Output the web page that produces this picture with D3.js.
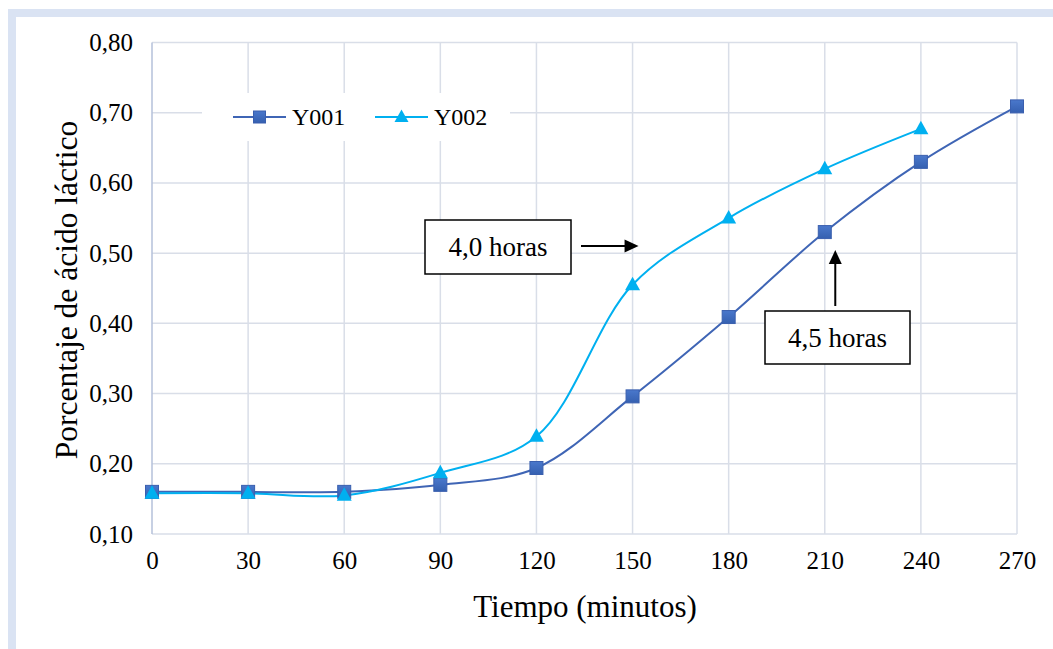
<!DOCTYPE html>
<html>
<head>
<meta charset="utf-8">
<script src="https://cdn.jsdelivr.net/npm/d3@7/dist/d3.min.js"></script>
<style>
  html, body { margin: 0; padding: 0; background: #fff; }
  svg { display: block; }
</style>
</head>
<body>
<svg id="chart" width="1053" height="649"></svg>
<script>
// Time in minutes
const minutes = [0, 30, 60, 90, 120, 150, 180, 210, 240, 270];
// Lactic acid percentage for each strain
const y001 = [0.16, 0.16, 0.16, 0.17, 0.194, 0.296, 0.409, 0.53, 0.63, 0.709];
const y002 = [0.158, 0.158, 0.155, 0.187, 0.239, 0.455, 0.55, 0.62, 0.677];
const seriesNames = ["Y001", "Y002"];
const xTicks = [0, 30, 60, 90, 120, 150, 180, 210, 240, 270];
const yTicks = [0.1, 0.2, 0.3, 0.4, 0.5, 0.6, 0.7, 0.8];
// Annotations: label, series, minute the arrow points at
const notes = [
  { text: "4,0 horas", series: "Y002", minute: 150 },
  { text: "4,5 horas", series: "Y001", minute: 210 }
];

const SERIF = "'Liberation Serif', 'Times New Roman', Times, serif";

const svg = d3.select("#chart").attr("font-family", SERIF);
const W = 1053, H = 649;
const plot = { left: 152, right: 1017, top: 42.5, bottom: 534 };

const x = d3.scaleLinear().domain([0, 270]).range([plot.left, plot.right]);
const y = d3.scaleLinear().domain([0.1, 0.8]).range([plot.bottom, plot.top]);

const fmt = v => d3.format(".2f")(v).replace(".", ",");

function txt(sel, size) {
  return sel.attr("font-family", SERIF).style("font-family", SERIF)
    .style("font-size", size + "px").attr("fill", "#000");
}

// Outer frame band (top and left)
svg.append("rect").attr("x", 8).attr("y", 9).attr("width", W - 8).attr("height", 8).attr("fill", "#dae3f3");
svg.append("rect").attr("x", 8).attr("y", 9).attr("width", 8).attr("height", H - 9).attr("fill", "#dae3f3");

const gridColor = "#d9dee8";

// Gridlines
svg.append("g").selectAll("line").data(yTicks).join("line")
  .attr("x1", plot.left).attr("x2", plot.right)
  .attr("y1", d => y(d)).attr("y2", d => y(d))
  .attr("stroke", gridColor).attr("stroke-width", 1.5);
svg.append("g").selectAll("line").data(xTicks.slice(1)).join("line")
  .attr("x1", d => x(d)).attr("x2", d => x(d))
  .attr("y1", plot.top).attr("y2", plot.bottom)
  .attr("stroke", gridColor).attr("stroke-width", 1.5);

// Left axis line
svg.append("line").attr("x1", plot.left).attr("x2", plot.left)
  .attr("y1", plot.top).attr("y2", plot.bottom)
  .attr("stroke", "#b4c1da").attr("stroke-width", 1.5);

// Axes (labels only)
const yAxis = d3.axisLeft(y).tickValues(yTicks).tickFormat(fmt).tickSize(0).tickPadding(19);
const gy = svg.append("g").attr("transform", `translate(${plot.left},0)`).call(yAxis);
gy.attr("font-family", SERIF).attr("font-size", 25);
gy.select(".domain").remove();
txt(gy.selectAll("text"), 25);

const xAxis = d3.axisBottom(x).tickValues(xTicks).tickFormat(d3.format("d")).tickSize(0).tickPadding(17);
const gx = svg.append("g").attr("transform", `translate(0,${plot.bottom})`).call(xAxis);
gx.attr("font-family", SERIF).attr("font-size", 25);
gx.select(".domain").remove();
txt(gx.selectAll("text"), 25);

// Axis titles
txt(svg.append("text"), 31).attr("x", 585).attr("y", 617)
  .attr("text-anchor", "middle").text("Tiempo (minutos)");
txt(svg.append("text"), 31.5).attr("transform", "translate(77,290) rotate(-90)")
  .attr("text-anchor", "middle").text("Porcentaje de ácido láctico");

// Legend background hides gridlines behind it
svg.append("rect").attr("x", 202).attr("y", 93).attr("width", 308).attr("height", 48).attr("fill", "#fff");

const colors = { Y001: "#3f65b5", Y002: "#00b0f0" };
const line = d3.line().x(d => x(d[0])).y(d => y(d[1])).curve(d3.curveCatmullRom.alpha(0.5));

const seriesData = {
  Y001: minutes.slice(0, y001.length).map((m, i) => [m, y001[i]]),
  Y002: minutes.slice(0, y002.length).map((m, i) => [m, y002[i]])
};

// Gradient for square markers
const defs = svg.append("defs");
const grad = defs.append("linearGradient").attr("id", "sqGrad").attr("x1", 0).attr("y1", 0).attr("x2", 0).attr("y2", 1);
grad.append("stop").attr("offset", "0%").attr("stop-color", "#4a78cc");
grad.append("stop").attr("offset", "100%").attr("stop-color", "#3560b0");

function square(g, cx, cy, s) {
  g.append("rect").attr("x", cx - s / 2).attr("y", cy - s / 2).attr("width", s).attr("height", s)
    .attr("fill", "url(#sqGrad)").attr("stroke", "#3a5fae").attr("stroke-width", 1);
}
function triangle(g, cx, cy, s) {
  const h = s * 0.9;
  g.append("path").attr("d", `M${cx},${cy - h * 0.6}L${cx + s / 2},${cy + h * 0.4}L${cx - s / 2},${cy + h * 0.4}Z`)
    .attr("fill", "#00b0f0");
}

seriesNames.forEach(name => {
  svg.append("path").datum(seriesData[name]).attr("d", line)
    .attr("fill", "none").attr("stroke", colors[name]).attr("stroke-width", 2);
});
const mk = svg.append("g");
seriesData.Y001.forEach(d => square(mk, x(d[0]), y(d[1]), 13));
seriesData.Y002.forEach(d => triangle(mk, x(d[0]), y(d[1]), 15));

// Legend
const legend = svg.append("g");
[{ name: "Y001", x0: 233 }, { name: "Y002", x0: 375 }].forEach(item => {
  legend.append("line").attr("x1", item.x0).attr("x2", item.x0 + 53).attr("y1", 117).attr("y2", 117)
    .attr("stroke", colors[item.name]).attr("stroke-width", 2);
  if (item.name === "Y001") square(legend, item.x0 + 26.5, 117, 12);
  else triangle(legend, item.x0 + 26.5, 117, 14);
  txt(legend.append("text"), 24).attr("x", item.x0 + 59).attr("y", 117).attr("dy", "0.35em")
    .text(item.name);
});

// Annotation boxes with arrows
const ann = svg.append("g");
function arrowHead(g, tx, ty, dir) {
  const p = dir === "right"
    ? `M${tx},${ty}L${tx - 14},${ty - 6.5}L${tx - 14},${ty + 6.5}Z`
    : `M${tx},${ty}L${tx - 6.5},${ty + 14}L${tx + 6.5},${ty + 14}Z`;
  g.append("path").attr("d", p).attr("fill", "#000");
}
// "4,0 horas" — arrow pointing at Y002 at 150 min
{
  const n = notes[0];
  const px = x(n.minute);
  const bx = 425, by = 220, bw = 146, bh = 54;
  ann.append("rect").attr("x", bx).attr("y", by).attr("width", bw).attr("height", bh)
    .attr("fill", "#fff").attr("stroke", "#000").attr("stroke-width", 1.5);
  txt(ann.append("text"), 27).attr("x", bx + bw / 2).attr("y", by + bh / 2).attr("dy", "0.35em")
    .attr("text-anchor", "middle").text(n.text);
  const ay = by + 26;
  const tip = px + 6;
  ann.append("line").attr("x1", bx + bw + 10).attr("x2", tip - 10).attr("y1", ay).attr("y2", ay)
    .attr("stroke", "#000").attr("stroke-width", 2);
  arrowHead(ann, tip, ay, "right");
}
// "4,5 horas" — arrow pointing at Y001 at 210 min
{
  const n = notes[1];
  const px = x(n.minute), py = y(y001[minutes.indexOf(n.minute)]);
  const bx = 765, by = 311, bw = 145, bh = 53;
  ann.append("rect").attr("x", bx).attr("y", by).attr("width", bw).attr("height", bh)
    .attr("fill", "#fff").attr("stroke", "#000").attr("stroke-width", 1.5);
  txt(ann.append("text"), 27).attr("x", bx + bw / 2).attr("y", by + bh / 2).attr("dy", "0.35em")
    .attr("text-anchor", "middle").text(n.text);
  const ax = px + 10.5;
  const tip = py + 18;
  ann.append("line").attr("x1", ax).attr("x2", ax).attr("y1", by - 5).attr("y2", tip + 10)
    .attr("stroke", "#000").attr("stroke-width", 2);
  arrowHead(ann, ax, tip, "up");
}
</script>
</body>
</html>
